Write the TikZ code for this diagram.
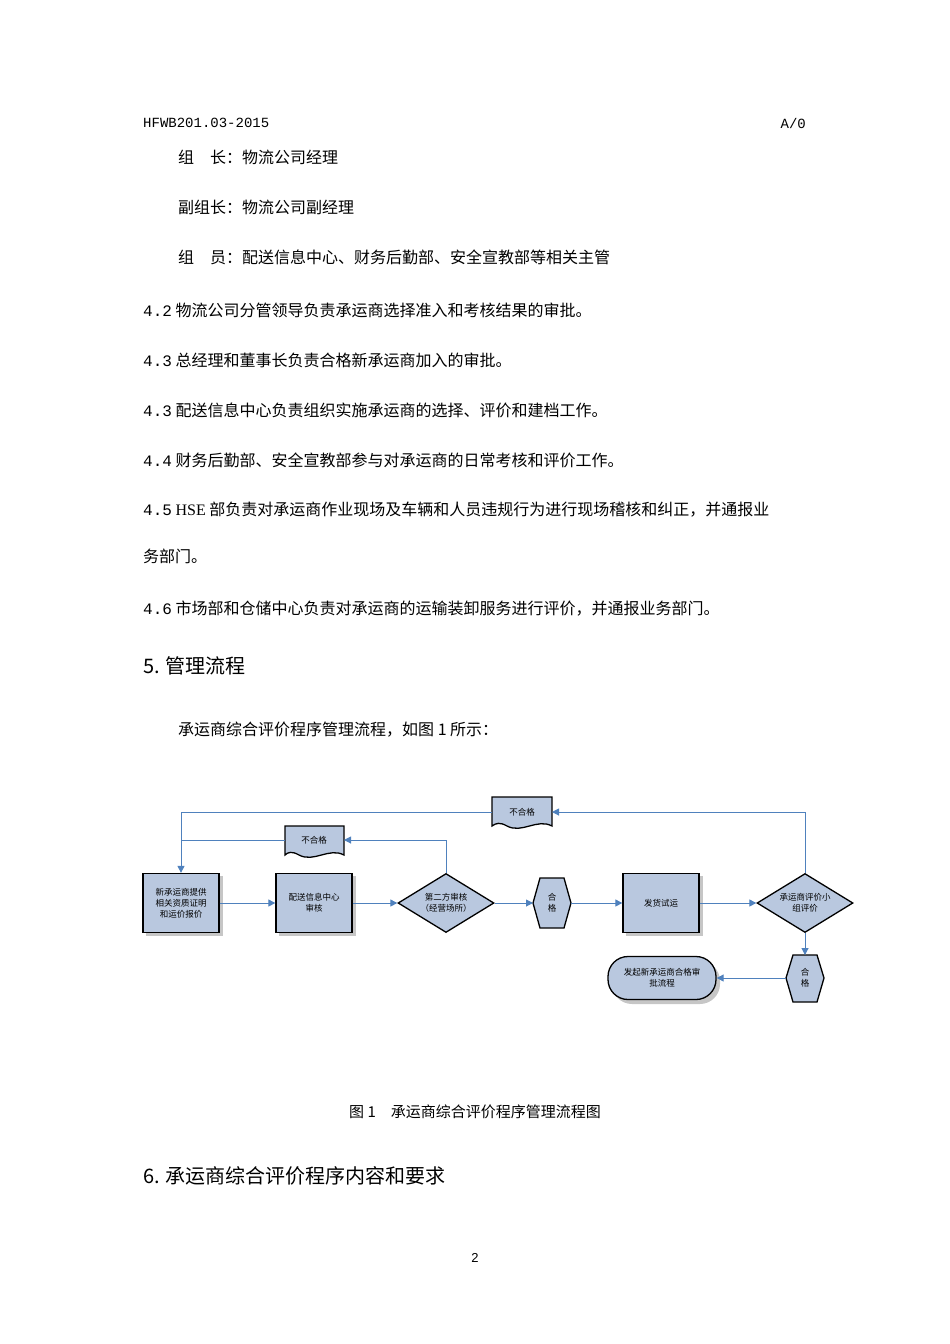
\documentclass[tikz,border=0pt]{standalone}
\usepackage{fontspec}
\setmainfont{Liberation Sans}
\newfontfamily\cjk{Noto Sans CJK SC}
\newfontfamily\mono{Liberation Mono}
\usetikzlibrary{shapes.geometric,arrows.meta}
\definecolor{fl}{HTML}{B9C8DF}
\definecolor{ln}{HTML}{4F81BD}
\begin{document}
\begin{tikzpicture}[x=1pt,y=-1pt,
 body/.style={anchor=west,inner sep=0,font=\cjk\fontsize{16}{18}\selectfont},
 small/.style={font=\cjk\fontsize{8.5}{11}\selectfont,align=center},
 rbox/.style={draw=black,line width=1.3pt,fill=fl,minimum width=76pt,minimum height=59pt,small},
 dia/.style={diamond,aspect=1.63,draw=black,line width=1.3pt,fill=fl,minimum width=96pt,minimum height=59pt,inner sep=0,small},
 con/.style={draw=ln,line width=1pt},
 arr/.style={con,-{Triangle[length=7pt,width=7pt]}}]
\useasboundingbox (0,0) rectangle (950,1344);
\node[anchor=west,inner sep=0,font=\mono\fontsize{14}{16}\selectfont] (h1) at (143,123) {HFWB201.03-2015};
\node[anchor=east,inner sep=0,font=\mono\fontsize{14}{16}\selectfont] (h2) at (806,123) {A/0};
\node[body] (l1) at (178,157) {组\hspace{1em}长：物流公司经理};
\node[body] (l2) at (178,207) {副组长：物流公司副经理};
\node[body] (l3) at (178,257) {组\hspace{1em}员：配送信息中心、财务后勤部、安全宣教部等相关主管};
\node[body] (l4) at (143,310) {{\mono 4.2} 物流公司分管领导负责承运商选择准入和考核结果的审批。};
\node[body] (l5) at (143,360) {{\mono 4.3} 总经理和董事长负责合格新承运商加入的审批。};
\node[body] (l6) at (143,410) {{\mono 4.3} 配送信息中心负责组织实施承运商的选择、评价和建档工作。};
\node[body] (l7) at (143,460) {{\mono 4.4} 财务后勤部、安全宣教部参与对承运商的日常考核和评价工作。};
\node[body] (l8) at (143,510) {{\mono 4.5} {\fontspec{Liberation Serif}HSE} 部负责对承运商作业现场及车辆和人员违规行为进行现场稽核和纠正，并通报业};
\node[body] (l9) at (143,556) {务部门。};
\node[body] (l10) at (143,609) {{\mono 4.6} 市场部和仓储中心负责对承运商的运输装卸服务进行评价，并通报业务部门。};
\node[anchor=west,inner sep=0,font=\cjk\fontsize{20}{22}\selectfont] (s5) at (143,666) {5. 管理流程};
\node[body] (l11) at (178,730) {承运商综合评价程序管理流程，如图 1 所示：};

% diagram
\fill[gray!45] (146,876) rectangle (223,936);
\node[rbox] (b1) at (181,903) {新承运商提供\\相关资质证明\\和运价报价};
\fill[gray!45] (279,876) rectangle (356,936);
\node[rbox] (b2) at (314,903) {配送信息中心\\审核};
\node[dia] (d1) at (446,903) {第二方审核\\（经营场所）};
\draw[line width=1.3pt,fill=fl] (540,878) -- (564,878) -- (571,903) -- (564,928) -- (540,928) -- (533,903) -- cycle;
\node[small] (h1x) at (552,903) {合\\格};
\fill[gray!45] (626,876) rectangle (703,936);
\node[rbox] (b3) at (661,903) {发货试运};
\node[dia] (d2) at (805,903) {承运商评价小\\组评价};
\draw[line width=1.3pt,fill=fl] (793,955) -- (817,955) -- (824,978) -- (817,1002) -- (793,1002) -- (786,978) -- cycle;
\node[small] (h2x) at (805,978) {合\\格};
\fill[gray!45,rounded corners=20pt] (612,961) rectangle (720,1004);
\node[draw=black,line width=1.3pt,fill=fl,rounded corners=20pt,minimum width=108pt,minimum height=43pt,small] (t1) at (662,978) {发起新承运商合格审\\批流程};
% documents
\draw[line width=1.3pt,fill=fl] (492,797) -- (552,797) -- (552,826) .. controls (537,818) and (522,834) .. (507,826) .. controls (500,822) and (496,823) .. (492,826) -- cycle;
\node[small] (u1) at (522,812) {不合格};
\draw[line width=1.3pt,fill=fl] (285,826) -- (344,826) -- (344,855) .. controls (329,847) and (314,863) .. (299,855) .. controls (292,851) and (288,852) .. (285,855) -- cycle;
\node[small] (u2) at (314,840) {不合格};
\coordinate (u1e) at (552,812); \coordinate (u1w) at (492,812);
\coordinate (u2e) at (344,840); \coordinate (u2w) at (285,840);
\coordinate (h1w) at (533,903); \coordinate (h1e) at (571,903);
\coordinate (h2n) at (805,955); \coordinate (h2w) at (786,978);
% connectors
\draw[arr] (b1.east) -- (b2.west);
\draw[arr] (b2.east) -- (d1.west);
\draw[arr] (d1.east) -- (h1w);
\draw[arr] (h1e) -- (b3.west);
\draw[arr] (b3.east) -- (d2.west);
\draw[arr] (d2.south) -- (h2n);
\draw[arr] (h2w) -- (t1.east);
\draw[arr] (d2.north) |- (u1e);
\draw[arr] (u1w) -| (b1.north);
\draw[arr] (d1.north) |- (u2e);
\draw[con] (u2w) -- (181,840);

\node[anchor=center,font=\cjk\fontsize{15}{17}\selectfont] (cap) at (475,1112) {图 1\quad 承运商综合评价程序管理流程图};
\node[anchor=west,inner sep=0,font=\cjk\fontsize{20}{22}\selectfont] (s6) at (143,1176) {6. 承运商综合评价程序内容和要求};
\node[font=\fontsize{13}{15}\selectfont] (pg) at (475,1258) {2};
\end{tikzpicture}
\end{document}
